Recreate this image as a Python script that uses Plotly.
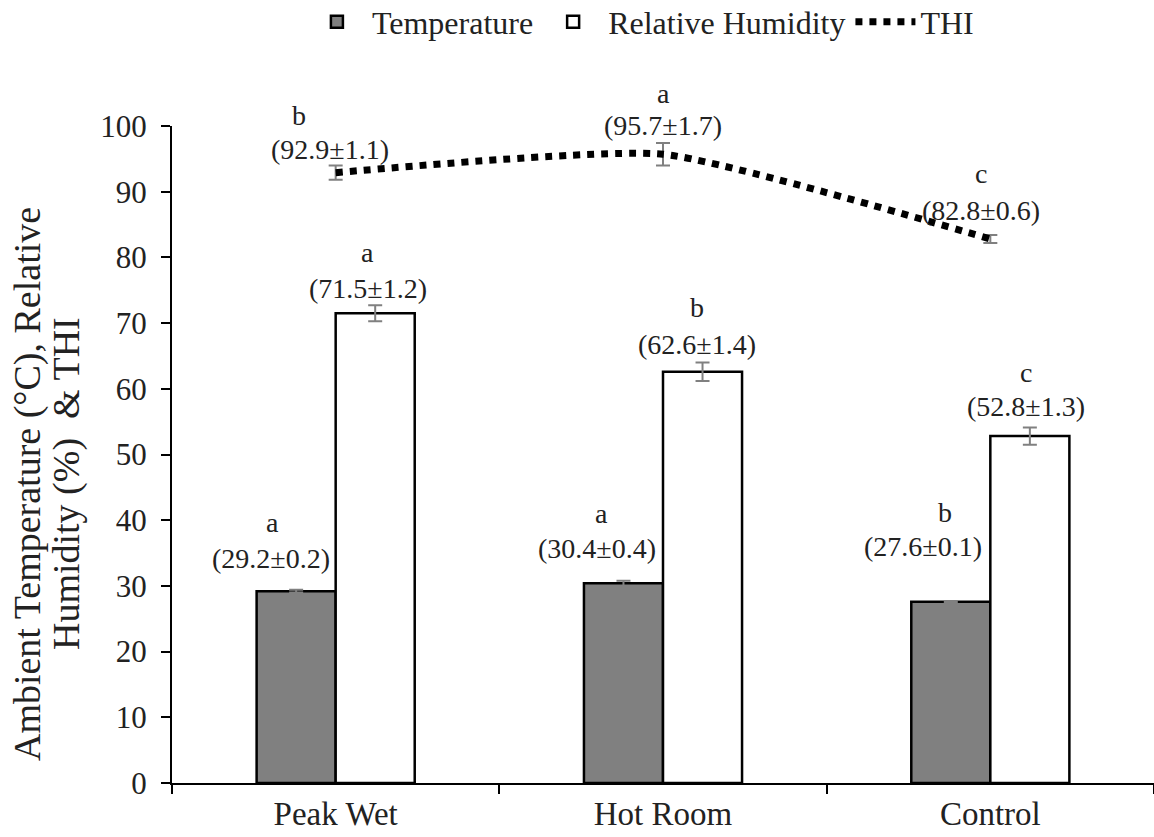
import plotly.graph_objects as go

categories = ["Peak Wet", "Hot Room", "Control"]
temperature = [29.2, 30.4, 27.6]
temperature_se = [0.2, 0.4, 0.1]
temperature_letters = ["a", "a", "b"]
humidity = [71.5, 62.6, 52.8]
humidity_se = [1.2, 1.4, 1.3]
humidity_letters = ["a", "b", "c"]
thi = [92.9, 95.7, 82.8]
thi_se = [1.1, 1.7, 0.6]
thi_letters = ["b", "a", "c"]
y_ticks = [0, 10, 20, 30, 40, 50, 60, 70, 80, 90, 100]
y_title_lines = ["Ambient Temperature (°C), Relative", "Humidity (%)  & THI"]

FONT = "Liberation Serif"
TXT = "#222"
fig = go.Figure()
fig.add_trace(go.Bar(
    name="Temperature", x=categories, y=temperature,
    marker=dict(color="#808080", line=dict(color="black", width=2.5)),
    error_y=dict(type="data", array=temperature_se, color="#808080", thickness=2, width=7),
))
fig.add_trace(go.Bar(
    name="Relative Humidity", x=categories, y=humidity,
    marker=dict(color="white", line=dict(color="black", width=2.5)),
    error_y=dict(type="data", array=humidity_se, color="#808080", thickness=2, width=7),
))
fig.add_trace(go.Scatter(
    name="THI", x=categories, y=thi, mode="lines",
    line=dict(color="black", width=7, dash="7px,7px", shape="spline", smoothing=0.5),
    error_y=dict(type="data", array=thi_se, color="#808080", thickness=2, width=7),
    cliponaxis=False,
))

# label placement (pixel offsets from each mark's top): (xshift_value, yshift_value, xshift_letter, yshift_letter)
temp_offsets = [(-25, 33, -23, 69), (-26, 35, -22, 70), (-27, 55, -5, 89)]
hum_offsets = [(-8, 25, -8, 61), (-6, 27, -6, 64), (-4, 30, -4, 64)]
thi_offsets = [(-6, 23, -37, 57), (0, 29, 0, 61), (-9, 29, -9, 66)]
bar_half = 40  # half bar width in pixels

def add_labels(vals, ses, letters, offsets, center_shift):
    for cat, v, s, l, (xv, yv, xl, yl) in zip(categories, vals, ses, letters, offsets):
        fig.add_annotation(x=cat, y=v, text=f"({v}±{s})", showarrow=False,
                           xshift=center_shift + xv, yshift=yv, yanchor="middle",
                           font=dict(family=FONT, size=28, color=TXT))
        fig.add_annotation(x=cat, y=v, text=l, showarrow=False,
                           xshift=center_shift + xl, yshift=yl, yanchor="middle",
                           font=dict(family=FONT, size=28, color=TXT))

add_labels(temperature, temperature_se, temperature_letters, temp_offsets, -bar_half)
add_labels(humidity, humidity_se, humidity_letters, hum_offsets, bar_half)
add_labels(thi, thi_se, thi_letters, thi_offsets, 0)

# rotated y-axis title, two lines
for line_text, xpix in zip(y_title_lines, [27, 66]):
    fig.add_annotation(xref="paper", yref="paper", x=(xpix - 172) / 982, y=0.455,
                       text=line_text, textangle=-90, showarrow=False,
                       xanchor="center", yanchor="middle",
                       font=dict(family=FONT, size=38, color=TXT))

fig.update_layout(
    width=1154, height=837,
    margin=dict(l=172, r=0, t=126, b=54),
    paper_bgcolor="white", plot_bgcolor="white",
    barmode="group", bargap=0.517, bargroupgap=0,
    font=dict(family=FONT, size=29, color=TXT),
    showlegend=True,
    legend=dict(orientation="h", x=0.477, xanchor="center", xref="paper",
                y=1 - 22 / 837, yanchor="middle", yref="container",
                font=dict(family=FONT, size=32, color=TXT), itemwidth=60,
                bgcolor="rgba(0,0,0,0)"),
    xaxis=dict(range=[-0.5, 2.5], showline=True, linecolor="black", linewidth=2,
               ticks="outside", tickson="boundaries", ticklen=9, tickwidth=2, tickcolor="black",
               tickfont=dict(family=FONT, size=33, color=TXT), showgrid=False, zeroline=False),
    yaxis=dict(range=[0, 100], tickvals=y_ticks, showline=True, linecolor="black", linewidth=2,
               ticks="outside", ticklen=9, tickwidth=2, tickcolor="black", ticklabelstandoff=8,
               tickfont=dict(family=FONT, size=31, color=TXT), showgrid=False, zeroline=False,
               automargin=False),
)
fig.write_html("out.html")
